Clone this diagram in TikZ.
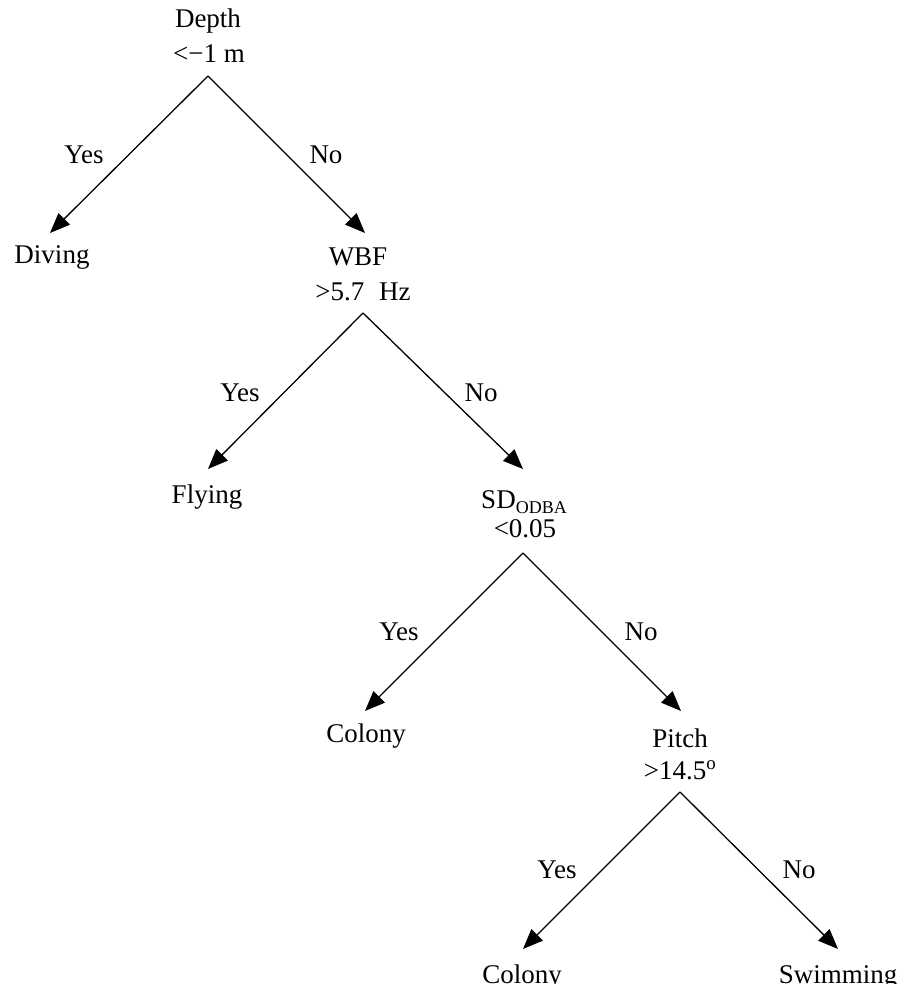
\documentclass[tikz,border=0pt]{standalone}
\usepackage{fontspec}
\setmainfont{Liberation Serif}
\usetikzlibrary{arrows.meta}
\begin{document}
\begin{tikzpicture}[x=1pt,y=-1pt,
  txt/.style={anchor=base,inner sep=0pt,font=\fontsize{27}{35}\selectfont},
  arr/.style={line width=1.3pt,-{Triangle[length=20pt,width=16pt]}}]
\useasboundingbox (0,0) rectangle (912,984);
% decision nodes
\node[txt] (d1) at (208,28) {Depth};
\node[txt] (d2) at (209,63) {<−1 m};
\node[txt] (w1) at (358,265) {WBF};
\node[txt] (w2) at (363,300) {>5.7\hspace{0.3em} Hz};
\node[txt] (s1) at (524,508) {SD\raisebox{-0.22em}{\fontsize{18}{18}\selectfont ODBA}};
\node[txt] (s2) at (525,537) {<0.05};
\node[txt] (p1) at (680,747) {Pitch};
\node[txt] (p2) at (680,779) {>14.5\textsuperscript{o}};
% leaves
\node[txt] (diving) at (52,263) {Diving};
\node[txt] (flying) at (207,503) {Flying};
\node[txt] (colony1) at (366,742) {Colony};
\node[txt] (colony2) at (522,983) {Colony};
\node[txt] (swim) at (838,983) {Swimming};
% branch points and tips
\coordinate (a1) at (208,76);
\coordinate (a2) at (363,313);
\coordinate (a3) at (523,553);
\coordinate (a4) at (680,792);
\coordinate (t1l) at (50,233);
\coordinate (t1r) at (365,233);
\coordinate (t2l) at (208,469);
\coordinate (t2r) at (523,469);
\coordinate (t3l) at (365,711);
\coordinate (t3r) at (681,711);
\coordinate (t4l) at (523,949);
\coordinate (t4r) at (838,949);
\draw[arr] (a1) -- (t1l);
\draw[arr] (a1) -- (t1r);
\draw[arr] (a2) -- (t2l);
\draw[arr] (a2) -- (t2r);
\draw[arr] (a3) -- (t3l);
\draw[arr] (a3) -- (t3r);
\draw[arr] (a4) -- (t4l);
\draw[arr] (a4) -- (t4r);
% edge labels
\node[txt] (y1) at (84,164) {Yes};
\node[txt] (n1) at (326,164) {No};
\node[txt] (y2) at (240,401) {Yes};
\node[txt] (n2) at (481,401) {No};
\node[txt] (y3) at (399,640) {Yes};
\node[txt] (n3) at (641,640) {No};
\node[txt] (y4) at (557,878) {Yes};
\node[txt] (n4) at (799,878) {No};
\end{tikzpicture}
\end{document}
